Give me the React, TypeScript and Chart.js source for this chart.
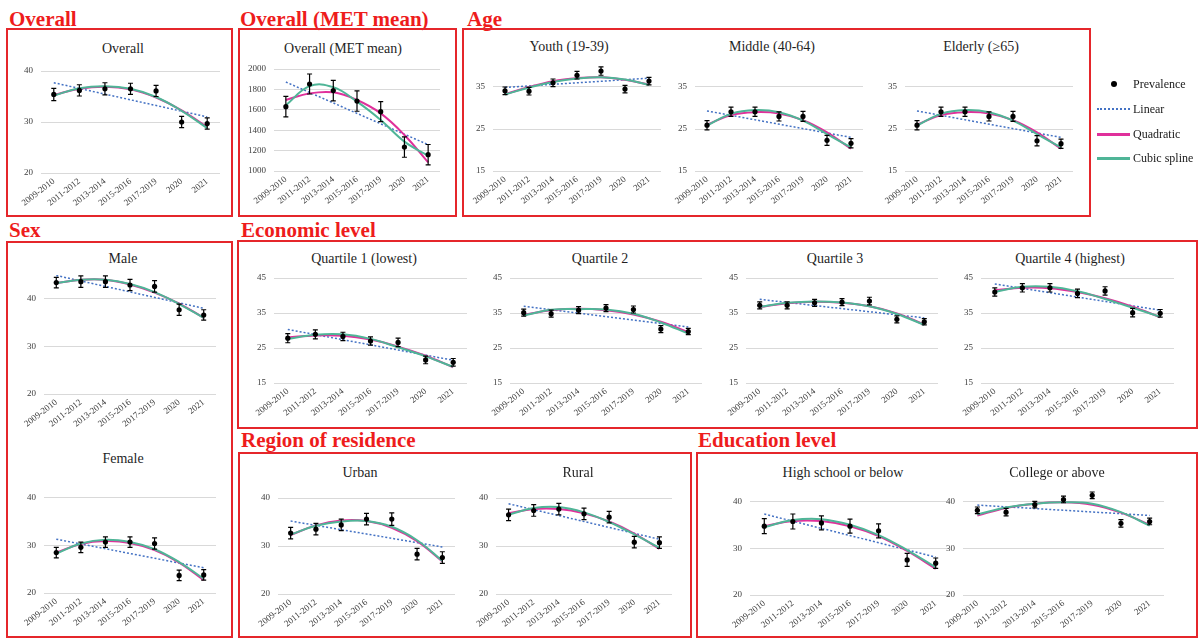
import React, { useEffect, useRef } from "react";
import { Chart, registerables } from "chart.js";

Chart.register(...registerables);

// ---------------- DATA ----------------
const categories = ["2009-2010", "2011-2012", "2013-2014", "2015-2016", "2017-2019", "2020", "2021"];

const ticks20to40 = [20, 30, 40];
const ticksMet = [1000, 1200, 1400, 1600, 1800, 2000];
const ticksAge = [15, 25, 35];
const ticksEcon = [15, 25, 35, 45];

// Overall
const overallPrev = [35.4, 36.2, 36.5, 36.5, 36.1, 30.0, 29.7];
const overallErr = [1.2, 1.1, 1.2, 1.1, 1.1, 1.1, 1.1];
const overallLinear = [37.7, null, null, null, null, null, 31.0];
const overallQuad = [35.3, 36.5, 36.9, 36.4, 34.8, 32.3, 29.0];
const overallCubic = [35.2, 36.6, 37.0, 36.5, 34.9, 32.2, 28.8];

// Overall (MET mean)
const metPrev = [1631, 1853, 1788, 1686, 1582, 1235, 1160];
const metErr = [100, 98, 100, 100, 98, 100, 100];
const metLinear = [1872, null, null, null, null, null, 1258];
const metQuad = [1696, 1761, 1771, 1696, 1565, 1353, 1085];
const metCubic = [1645, 1832, 1822, 1680, 1500, 1288, 1150];

// Age: Youth (19-39)
const youthPrev = [34.1, 34.0, 36.0, 37.8, 38.8, 34.5, 36.4];
const youthErr = [0.9, 0.9, 0.9, 0.9, 1.0, 0.9, 0.9];
const youthLinear = [34.9, null, null, null, null, null, 37.1];
const youthQuad = [33.3, 35.0, 36.4, 37.1, 37.3, 36.7, 35.6];
const youthCubic = [33.2, 34.9, 36.2, 37.0, 37.3, 36.8, 35.5];

// Age: Middle (40-64)
const middlePrev = [25.9, 29.1, 29.1, 28.0, 28.0, 22.3, 21.6];
const middleErr = [1.1, 1.1, 1.1, 1.1, 1.2, 1.2, 1.1];
const middleLinear = [29.3, null, null, null, null, null, 23.0];
const middleQuad = [26.0, 28.3, 29.0, 28.7, 27.1, 24.2, 20.3];
const middleCubic = [25.8, 28.6, 29.5, 29.0, 27.0, 23.8, 20.6];

// Age: Elderly (>=65)
const elderlyPrev = [25.9, 29.1, 29.1, 28.0, 28.0, 22.2, 21.5];
const elderlyErr = [1.1, 1.1, 1.1, 1.1, 1.2, 1.2, 1.1];
const elderlyLinear = [29.3, null, null, null, null, null, 23.0];
const elderlyQuad = [26.0, 28.3, 29.0, 28.7, 27.1, 24.2, 20.3];
const elderlyCubic = [25.8, 28.6, 29.5, 29.0, 27.0, 23.8, 20.6];

// Sex: Male
const malePrev = [43.4, 43.6, 43.6, 42.9, 42.6, 37.7, 36.6];
const maleErr = [1.1, 1.2, 1.2, 1.2, 1.2, 1.2, 1.1];
const maleLinear = [44.9, null, null, null, null, null, 38.0];
const maleQuad = [43.3, 44.0, 44.0, 43.0, 41.3, 39.0, 36.0];
const maleCubic = [43.3, 44.0, 44.0, 43.1, 41.4, 38.9, 36.0];

// Sex: Female
const femalePrev = [28.5, 29.6, 30.7, 30.7, 30.4, 23.7, 23.8];
const femaleErr = [1.1, 1.1, 1.1, 1.1, 1.2, 1.1, 1.1];
const femaleLinear = [31.3, null, null, null, null, null, 25.3];
const femaleQuad = [28.5, 30.3, 30.9, 30.5, 29.0, 26.4, 22.7];
const femaleCubic = [28.3, 30.4, 31.2, 30.7, 29.2, 26.5, 23.0];

// Economic level
const q1Prev = [27.8, 28.9, 28.3, 27.0, 26.6, 21.6, 20.9];
const q1Err = [1.3, 1.3, 1.2, 1.2, 1.2, 1.1, 1.1];
const q1Linear = [30.3, null, null, null, null, null, 21.5];
const q1Quad = [28.0, 28.6, 28.5, 27.4, 25.4, 22.8, 19.5];
const q1Cubic = [27.6, 28.8, 28.9, 27.6, 25.2, 22.6, 19.6];

const q2Prev = [35.1, 34.8, 35.8, 36.4, 36.0, 30.4, 29.7];
const q2Err = [1.0, 1.0, 1.0, 1.0, 1.0, 1.0, 0.9];
const q2Linear = [36.9, null, null, null, null, null, 31.0];
const q2Quad = [34.5, 35.8, 36.2, 35.8, 34.6, 32.5, 29.5];
const q2Cubic = [34.3, 35.9, 36.1, 36.0, 34.8, 32.3, 29.1];

const q3Prev = [37.2, 37.2, 37.9, 38.1, 38.4, 33.2, 32.5];
const q3Err = [1.0, 1.0, 1.0, 1.0, 1.1, 1.0, 0.9];
const q3Linear = [38.9, null, null, null, null, null, 33.6];
const q3Quad = [36.7, 37.8, 38.2, 37.9, 36.9, 34.9, 31.7];
const q3Cubic = [36.8, 37.9, 38.3, 38.0, 36.9, 34.7, 31.6];

const q4Prev = [41.0, 42.2, 42.2, 40.6, 41.3, 35.1, 34.9];
const q4Err = [1.2, 1.2, 1.2, 1.2, 1.2, 1.2, 1.1];
const q4Linear = [43.3, null, null, null, null, null, 35.8];
const q4Quad = [41.5, 42.2, 42.1, 41.0, 39.2, 36.8, 33.8];
const q4Cubic = [41.0, 42.5, 42.5, 41.2, 39.0, 36.5, 33.9];

// Region of residence
const urbanPrev = [32.7, 33.5, 34.4, 35.6, 35.6, 28.3, 27.6];
const urbanErr = [1.2, 1.2, 1.2, 1.2, 1.3, 1.2, 1.2];
const urbanLinear = [35.2, null, null, null, null, null, 29.8];
const urbanQuad = [32.3, 34.3, 35.3, 35.2, 33.8, 31.0, 26.8];
const urbanCubic = [32.4, 34.2, 35.1, 35.2, 34.0, 31.2, 26.9];

const ruralPrev = [36.5, 37.4, 37.7, 36.7, 36.0, 30.8, 30.7];
const ruralErr = [1.2, 1.2, 1.2, 1.2, 1.2, 1.2, 1.2];
const ruralLinear = [38.8, null, null, null, null, null, 31.4];
const ruralQuad = [36.8, 37.7, 37.7, 36.8, 35.1, 32.6, 29.4];
const ruralCubic = [36.5, 37.9, 38.1, 37.0, 35.0, 32.4, 29.6];

// Education level
const hsPrev = [34.7, 35.7, 35.4, 34.7, 33.7, 27.5, 26.8];
const hsErr = [1.6, 1.6, 1.5, 1.5, 1.5, 1.4, 1.1];
const hsLinear = [37.3, null, null, null, null, null, 28.1];
const hsQuad = [34.7, 35.8, 35.8, 34.7, 32.6, 29.4, 25.6];
const hsCubic = [34.5, 36.0, 36.2, 35.0, 32.8, 29.6, 25.9];

const colPrev = [38.1, 37.7, 39.3, 40.4, 41.3, 35.3, 35.7];
const colErr = [0.7, 0.8, 0.7, 0.7, 0.7, 0.8, 0.7];
const colLinear = [39.2, null, null, null, null, null, 37.0];
const colQuad = [37.0, 38.6, 39.5, 39.8, 39.3, 37.6, 35.0];
const colCubic = [37.2, 38.7, 39.5, 39.8, 39.5, 37.7, 34.8];

// ---------------- STYLE ----------------
const SERIF = "'Liberation Serif', 'Times New Roman', serif";
const RED = "#ee1c1c";
const BOX_RED = "#e5262b";
const COL_LINEAR = "#4472C4";
const COL_QUAD = "#E0309B";
const COL_CUBIC = "#4FB597";
const TICK_COLOR = "#404040";
const Y_W = 40;
const X_H = 45;
const PAD_T = 8;
const PAD_R = 6;

type Panel = {
  title: string;
  tx: number; ty: number;
  al: number; ar: number; at: number; ab: number;
  min: number; max: number; ticks: number[];
  prev: number[]; err: number[]; lin: (number | null)[]; quad: number[]; cub: number[];
};

const panels: Panel[] = [
  { title: "Overall", tx: 123, ty: 49, al: 41, ar: 220, at: 71, ab: 173, min: 20, max: 40, ticks: ticks20to40,
    prev: overallPrev, err: overallErr, lin: overallLinear, quad: overallQuad, cub: overallCubic },
  { title: "Overall (MET mean)", tx: 343, ty: 49, al: 274, ar: 440, at: 69, ab: 171, min: 1000, max: 2000, ticks: ticksMet,
    prev: metPrev, err: metErr, lin: metLinear, quad: metQuad, cub: metCubic },
  { title: "Youth (19-39)", tx: 569, ty: 47, al: 493, ar: 661, at: 66, ab: 171, min: 15, max: 40, ticks: ticksAge,
    prev: youthPrev, err: youthErr, lin: youthLinear, quad: youthQuad, cub: youthCubic },
  { title: "Middle (40-64)", tx: 772, ty: 47, al: 695, ar: 863, at: 66, ab: 171, min: 15, max: 40, ticks: ticksAge,
    prev: middlePrev, err: middleErr, lin: middleLinear, quad: middleQuad, cub: middleCubic },
  { title: "Elderly (\u226565)", tx: 981, ty: 47, al: 905, ar: 1073, at: 66, ab: 171, min: 15, max: 40, ticks: ticksAge,
    prev: elderlyPrev, err: elderlyErr, lin: elderlyLinear, quad: elderlyQuad, cub: elderlyCubic },
  { title: "Male", tx: 123, ty: 259, al: 44, ar: 216, at: 275, ab: 394, min: 20, max: 45, ticks: ticks20to40,
    prev: malePrev, err: maleErr, lin: maleLinear, quad: maleQuad, cub: maleCubic },
  { title: "Female", tx: 123, ty: 459, al: 44, ar: 216, at: 474, ab: 593, min: 20, max: 45, ticks: ticks20to40,
    prev: femalePrev, err: femaleErr, lin: femaleLinear, quad: femaleQuad, cub: femaleCubic },
  { title: "Quartile 1 (lowest)", tx: 364, ty: 259, al: 274, ar: 467, at: 278, ab: 383, min: 15, max: 45, ticks: ticksEcon,
    prev: q1Prev, err: q1Err, lin: q1Linear, quad: q1Quad, cub: q1Cubic },
  { title: "Quartile 2", tx: 600, ty: 259, al: 510, ar: 702, at: 278, ab: 383, min: 15, max: 45, ticks: ticksEcon,
    prev: q2Prev, err: q2Err, lin: q2Linear, quad: q2Quad, cub: q2Cubic },
  { title: "Quartile 3", tx: 835, ty: 259, al: 746, ar: 938, at: 278, ab: 383, min: 15, max: 45, ticks: ticksEcon,
    prev: q3Prev, err: q3Err, lin: q3Linear, quad: q3Quad, cub: q3Cubic },
  { title: "Quartile 4 (highest)", tx: 1070, ty: 259, al: 981, ar: 1174, at: 278, ab: 383, min: 15, max: 45, ticks: ticksEcon,
    prev: q4Prev, err: q4Err, lin: q4Linear, quad: q4Quad, cub: q4Cubic },
  { title: "Urban", tx: 360, ty: 473, al: 278, ar: 455, at: 498, ab: 594, min: 20, max: 40, ticks: ticks20to40,
    prev: urbanPrev, err: urbanErr, lin: urbanLinear, quad: urbanQuad, cub: urbanCubic },
  { title: "Rural", tx: 578, ty: 473, al: 496, ar: 672, at: 498, ab: 594, min: 20, max: 40, ticks: ticks20to40,
    prev: ruralPrev, err: ruralErr, lin: ruralLinear, quad: ruralQuad, cub: ruralCubic },
  { title: "High school or below", tx: 843, ty: 473, al: 750, ar: 950, at: 492, ab: 595, min: 20, max: 42, ticks: ticks20to40,
    prev: hsPrev, err: hsErr, lin: hsLinear, quad: hsQuad, cub: hsCubic },
  { title: "College or above", tx: 1057, ty: 473, al: 963, ar: 1164, at: 492, ab: 595, min: 20, max: 42, ticks: ticks20to40,
    prev: colPrev, err: colErr, lin: colLinear, quad: colQuad, cub: colCubic },
];

type Section = { label: string; lx: number; ly: number; x1: number; y1: number; x2: number; y2: number };
const sections: Section[] = [
  { label: "Overall", lx: 9, ly: 9, x1: 7, y1: 29, x2: 232, y2: 216 },
  { label: "Overall (MET mean)", lx: 240, ly: 9, x1: 239, y1: 29, x2: 456, y2: 216 },
  { label: "Age", lx: 467, ly: 9, x1: 463, y1: 29, x2: 1090, y2: 216 },
  { label: "Sex", lx: 9, ly: 220, x1: 7, y1: 242, x2: 232, y2: 637 },
  { label: "Economic level", lx: 241, ly: 220, x1: 238, y1: 241, x2: 1197, y2: 428 },
  { label: "Region of residence", lx: 241, ly: 430, x1: 239, y1: 453, x2: 691, y2: 637 },
  { label: "Education level", lx: 698, ly: 430, x1: 697, y1: 453, x2: 1197, y2: 637 },
];

// ---------------- PLUGIN ----------------
const errorBarPlugin = {
  id: "errorBars",
  afterDatasetsDraw(chart: any, _args: any, opts: any) {
    const err: number[] = opts && opts.err;
    if (!err) return;
    const meta = chart.getDatasetMeta(0);
    const ys = chart.scales.y;
    const vals = chart.data.datasets[0].data as number[];
    const ctx = chart.ctx;
    ctx.save();
    ctx.strokeStyle = "#000";
    ctx.lineWidth = 1.2;
    meta.data.forEach((pt: any, i: number) => {
      const v = vals[i];
      const e = err[i];
      const x = pt.x;
      const y1 = ys.getPixelForValue(v - e);
      const y2 = ys.getPixelForValue(v + e);
      ctx.beginPath();
      ctx.moveTo(x, y1);
      ctx.lineTo(x, y2);
      ctx.moveTo(x - 2.5, y1);
      ctx.lineTo(x + 2.5, y1);
      ctx.moveTo(x - 2.5, y2);
      ctx.lineTo(x + 2.5, y2);
      ctx.stroke();
    });
    ctx.restore();
  },
};

function MiniChart({ p }: { p: Panel }) {
  const ref = useRef<HTMLCanvasElement | null>(null);
  const left = p.al - Y_W;
  const top = p.at - PAD_T;
  const width = p.ar - p.al + Y_W + PAD_R;
  const height = p.ab - p.at + PAD_T + X_H;

  useEffect(() => {
    if (!ref.current) return;
    const chart = new Chart(ref.current, {
      type: "line",
      data: {
        labels: categories,
        datasets: [
          {
            label: "Prevalence",
            data: p.prev,
            showLine: false,
            pointRadius: 2.6,
            pointBackgroundColor: "#000",
            pointBorderColor: "#000",
            pointBorderWidth: 0,
          },
          {
            label: "Cubic spline",
            data: p.cub,
            borderColor: COL_CUBIC,
            borderWidth: 2,
            pointRadius: 0,
            tension: 0.4,
            fill: false,
          },
          {
            label: "Quadratic",
            data: p.quad,
            borderColor: COL_QUAD,
            borderWidth: 2,
            pointRadius: 0,
            tension: 0.4,
            fill: false,
          },
          {
            label: "Linear",
            data: p.lin,
            borderColor: COL_LINEAR,
            borderWidth: 1.5,
            borderDash: [2, 2],
            pointRadius: 0,
            spanGaps: true,
            tension: 0,
            fill: false,
          },
        ],
      } as any,
      options: {
        animation: false,
        responsive: false,
        devicePixelRatio: 1,
        layout: { padding: { top: PAD_T, right: PAD_R, left: 0, bottom: 0 } },
        plugins: {
          legend: { display: false },
          tooltip: { enabled: false },
          title: { display: false },
          errorBars: { err: p.err },
        } as any,
        scales: {
          x: {
            type: "category",
            offset: true,
            grid: { display: false, drawTicks: false },
            border: { display: false },
            ticks: {
              autoSkip: false,
              minRotation: 38,
              maxRotation: 38,
              padding: 3,
              color: TICK_COLOR,
              font: { family: SERIF, size: 9 },
            },
            afterFit: (s: any) => {
              s.height = X_H;
              s.paddingLeft = 0;
              s.paddingRight = 0;
            },
          },
          y: {
            min: p.min,
            max: p.max,
            grid: { color: "#d9d9d9", lineWidth: 1, drawTicks: false },
            border: { display: false },
            ticks: {
              padding: 8,
              color: TICK_COLOR,
              font: { family: SERIF, size: 9 },
              callback: (v: any) => String(v),
            },
            afterBuildTicks: (s: any) => {
              s.ticks = p.ticks.map((v) => ({ value: v }));
            },
            afterFit: (s: any) => {
              s.width = Y_W;
              s.paddingTop = 0;
              s.paddingBottom = 0;
            },
          },
        },
      } as any,
      plugins: [errorBarPlugin as any],
    });
    return () => chart.destroy();
  }, []);

  return (
    <>
      <div
        style={{
          position: "absolute",
          left: p.tx - 110,
          width: 220,
          top: p.ty - 9,
          height: 18,
          lineHeight: "18px",
          textAlign: "center",
          fontFamily: SERIF,
          fontSize: 14,
          color: "#1f1f1f",
          whiteSpace: "nowrap",
        }}
      >
        {p.title}
      </div>
      <canvas
        ref={ref}
        width={width}
        height={height}
        style={{ position: "absolute", left, top, width, height }}
      />
    </>
  );
}

function Legend() {
  const textStyle: React.CSSProperties = {
    position: "absolute",
    left: 1133,
    height: 16,
    lineHeight: "16px",
    fontFamily: SERIF,
    fontSize: 12,
    color: "#1a1a1a",
    whiteSpace: "nowrap",
  };
  return (
    <>
      <div style={{ position: "absolute", left: 1111, top: 81, width: 6, height: 6, borderRadius: 3, background: "#000" }} />
      <div style={{ ...textStyle, top: 84 - 8 }}>Prevalence</div>
      <div style={{ position: "absolute", left: 1097, top: 108, width: 33, height: 0, borderTop: `2px dotted ${COL_LINEAR}` }} />
      <div style={{ ...textStyle, top: 109 - 8 }}>Linear</div>
      <div style={{ position: "absolute", left: 1097, top: 133, width: 33, height: 2.5, background: COL_QUAD }} />
      <div style={{ ...textStyle, top: 134 - 8 }}>Quadratic</div>
      <div style={{ position: "absolute", left: 1097, top: 157, width: 33, height: 2.5, background: COL_CUBIC }} />
      <div style={{ ...textStyle, top: 158 - 8 }}>Cubic spline</div>
    </>
  );
}

export default function App() {
  return (
    <div
      style={{
        position: "absolute",
        left: 0,
        top: 0,
        width: 1199,
        height: 639,
        background: "#fff",
        overflow: "hidden",
      }}
    >
      {sections.map((s) => (
        <React.Fragment key={s.label}>
          <div
            style={{
              position: "absolute",
              left: s.lx,
              top: s.ly,
              height: 21,
              lineHeight: "21px",
              fontFamily: SERIF,
              fontWeight: 700,
              fontSize: 21,
              color: RED,
              whiteSpace: "nowrap",
            }}
          >
            {s.label}
          </div>
          <div
            style={{
              position: "absolute",
              left: s.x1 - 1,
              top: s.y1 - 1,
              width: s.x2 - s.x1 + 2,
              height: s.y2 - s.y1 + 2,
              border: `2px solid ${BOX_RED}`,
              boxSizing: "border-box",
            }}
          />
        </React.Fragment>
      ))}
      {panels.map((p) => (
        <MiniChart key={p.title} p={p} />
      ))}
      <Legend />
    </div>
  );
}
